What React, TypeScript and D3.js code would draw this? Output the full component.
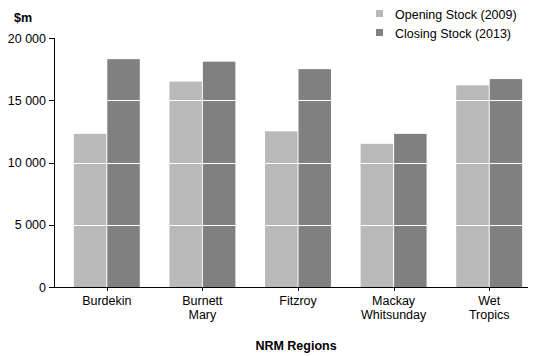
import React from "react";
import * as d3 from "d3";

const categories = ["Burdekin", "Burnett\nMary", "Fitzroy", "Mackay\nWhitsunday", "Wet\nTropics"];
const seriesNames = ["Opening Stock (2009)", "Closing Stock (2013)"];
const openingStock = [12300, 16500, 12500, 11500, 16200];
const closingStock = [18300, 18100, 17500, 12300, 16700];
const yTicks = [0, 5000, 10000, 15000, 20000];
const colors = ["#b9b9b9", "#808080"];

const W = 536, H = 356;
const font = "'Liberation Sans', Arial, sans-serif";
const fs = 12.5;

export default function App() {
  const x = d3.scaleBand<string>().domain(categories).range([59, 537]).paddingInner(0.31).paddingOuter(0.155);
  const x1 = d3.scaleBand<number>().domain([0, 1]).range([0, x.bandwidth()]);
  const y = d3.scaleLinear().domain([0, 20000]).range([287, 38]);
  const fmt = (v: number) => d3.format(",")(v).replace(/,/g, " ");
  const series = [openingStock, closingStock];

  return (
    <svg width={W} height={H} style={{ position: "absolute", left: 0, top: 0 }} fontFamily={font}>
      <rect width={W} height={H} fill="#fff" />
      <text x={14} y={22} fontSize={fs} fontWeight="bold">$m</text>
      {categories.map((c, i) => (
        <g key={c}>
          {series.map((s, j) => (
            <rect key={j} x={x(c)! + x1(j)! + (j === 1 ? 0.5 : 0)} y={y(s[i])} width={x1.bandwidth() - 0.5} height={y(0) - y(s[i])} fill={colors[j]} />
          ))}
        </g>
      ))}
      {yTicks.filter(t => t > 0 && t < 20000).map(t => (
        <line key={t} x1={55} x2={528} y1={Math.round(y(t)) + 0.5} y2={Math.round(y(t)) + 0.5} stroke="#fff" strokeWidth={1} />
      ))}
      <line x1={54.5} x2={54.5} y1={38} y2={287} stroke="#000" />
      <line x1={54} x2={528} y1={287.5} y2={287.5} stroke="#000" />
      {yTicks.map(t => (
        <g key={t}>
          <line x1={49} x2={54} y1={Math.round(y(t)) + 0.5} y2={Math.round(y(t)) + 0.5} stroke="#000" />
          <text x={46} y={y(t) + 4.5} fontSize={fs} textAnchor="end">{fmt(t)}</text>
        </g>
      ))}
      {categories.map(c => {
        const cx = x(c)! + x.bandwidth() / 2;
        return (
          <g key={c}>
            <line x1={Math.round(cx) + 0.5} x2={Math.round(cx) + 0.5} y1={288} y2={291} stroke="#000" />
            {c.split("\n").map((l, k) => (
              <text key={k} x={cx} y={304.5 + k * 14} fontSize={fs} textAnchor="middle">{l}</text>
            ))}
          </g>
        );
      })}
      <text x={296} y={350} fontSize={fs} fontWeight="bold" textAnchor="middle">NRM Regions</text>
      {seriesNames.map((n, j) => (
        <g key={n}>
          <rect x={376} y={10 + j * 19} width={7} height={7} fill={colors[j]} />
          <text x={395} y={18.5 + j * 19} fontSize={fs}>{n}</text>
        </g>
      ))}
    </svg>
  );
}
